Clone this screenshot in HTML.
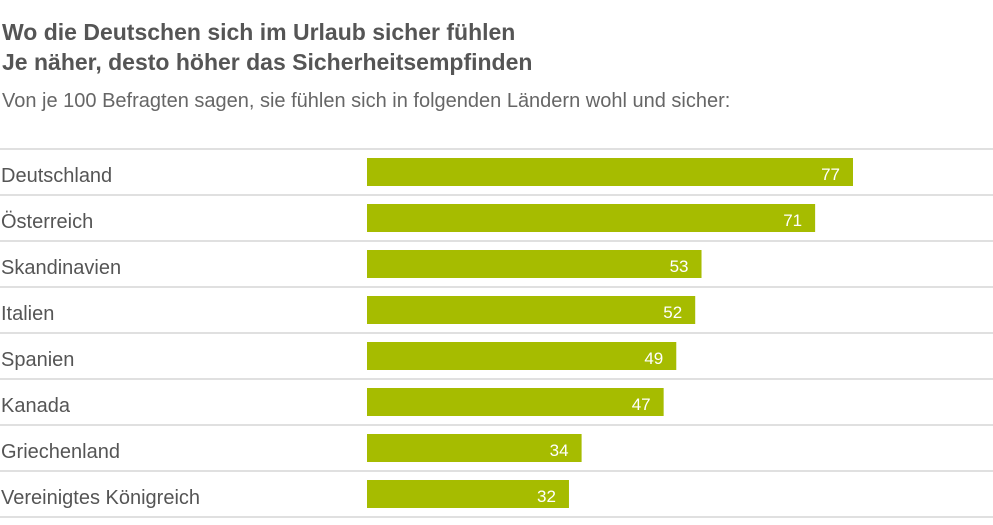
<!DOCTYPE html>
<html><head><meta charset="utf-8"><style>
body{margin:0;width:993px;height:525px;overflow:hidden;background:#fff;font-family:"Liberation Sans",sans-serif;position:relative}
.t{position:absolute;left:2px;font-weight:bold;color:#555;font-size:23px;white-space:nowrap;line-height:26px}
.s{position:absolute;left:2px;top:89px;color:#666;font-size:20px;white-space:nowrap;line-height:24px}
</style></head><body>
<div class="t" style="top:19px">Wo die Deutschen sich im Urlaub sicher fühlen</div>
<div class="t" style="top:49px">Je näher, desto höher das Sicherheitsempfinden</div>
<div class="s">Von je 100 Befragten sagen, sie fühlen sich in folgenden Ländern wohl und sicher:</div>
<svg id="c" width="993" height="525" style="position:absolute;left:0;top:0"></svg>
<script>
const categories=["Deutschland","Österreich","Skandinavien","Italien","Spanien","Kanada","Griechenland","Vereinigtes Königreich"];
const values=[77,71,53,52,49,47,34,32];
const svg=document.getElementById('c');
const NS='http://www.w3.org/2000/svg';
const x0=367, unit=(853-367)/77, top0=149, rowH=46;
function xs(v){return x0+v*unit;}
function ys(i){return top0+i*rowH;}
function mk(t,a){const e=document.createElementNS(NS,t);for(const k in a)e.setAttribute(k,a[k]);svg.appendChild(e);return e;}
for(let i=0;i<=categories.length;i++){
  const l=mk('rect',{x:0,y:ys(i)-1,width:993,height:2,fill:'#e0e0e0'});
  
  
}
categories.forEach((c,i)=>{
  const y=ys(i);
  const lb=mk('text',{x:1,y:y+33,'font-size':20,fill:'#555','font-family':'Liberation Sans, sans-serif'});
  lb.textContent=c;
  
  
  const b=mk('rect',{x:x0,y:y+9,width:xs(values[i])-x0,height:28,fill:'#a6bc00'});
  
  
  const v=mk('text',{x:xs(values[i])-13,y:y+31,'font-size':17,fill:'#fff','text-anchor':'end','font-family':'Liberation Sans, sans-serif'});
  v.textContent=values[i];
  
  
});
</script>
</body></html>
